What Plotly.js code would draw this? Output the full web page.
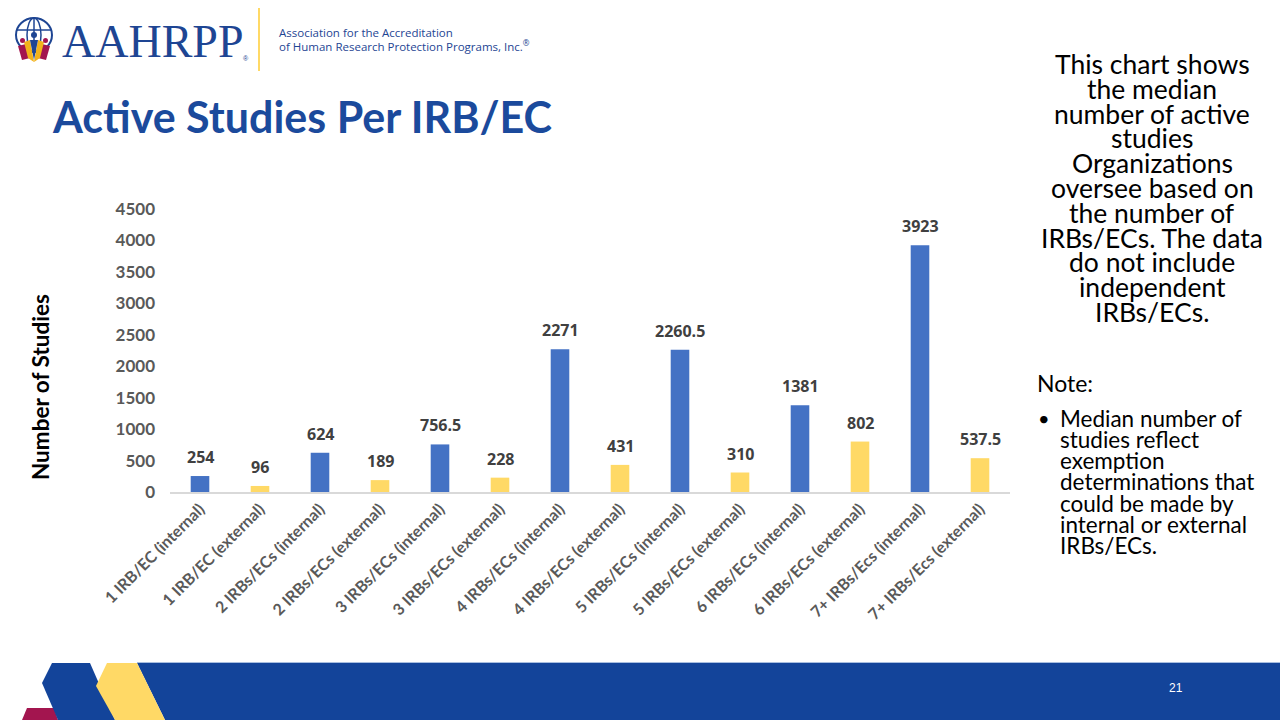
<!DOCTYPE html>
<html>
<head>
<meta charset="utf-8">
<script src="https://cdn.plot.ly/plotly-3.0.1.min.js"></script>
<style>html,body{margin:0;padding:0;background:#fff;}#chart{width:1280px;height:720px;}</style>
</head>
<body>
<div id="chart"></div>
<script>
// ---- data ----
const categories = [
  "1 IRB/EC (internal)", "1 IRB/EC (external)",
  "2 IRBs/ECs (internal)", "2 IRBs/ECs (external)",
  "3 IRBs/ECs (internal)", "3 IRBs/ECs (external)",
  "4 IRBs/ECs (internal)", "4 IRBs/ECs (external)",
  "5 IRBs/ECs (internal)", "5 IRBs/ECs (external)",
  "6 IRBs/ECs (internal)", "6 IRBs/ECs (external)",
  "7+ IRBs/Ecs (internal)", "7+ IRBs/Ecs (external)"
];
const medianStudies = [254, 96, 624, 189, 756.5, 228, 2271, 431, 2260.5, 310, 1381, 802, 3923, 537.5];
const yTicks = [0, 500, 1000, 1500, 2000, 2500, 3000, 3500, 4000, 4500];

const sideText = [
  "This chart shows", "the median", "number of active", "studies", "Organizations",
  "oversee based on", "the number of", "IRBs/ECs. The data", "do not include",
  "independent", "IRBs/ECs."
];
const noteLines = [
  "Median number of", "studies reflect", "exemption", "determinations that",
  "could be made by", "internal or external", "IRBs/ECs."
];

// ---- layout helpers (pixel -> paper) ----
const L = 170, R = 1010, T = 209, B = 492;
const px = x => (x - L) / (R - L);
const py = y => (B - y) / (B - T);
const pt = (x, y) => px(x).toFixed(5) + "," + py(y).toFixed(5);
const poly = arr => "M" + arr.map(p => pt(p[0], p[1])).join(" L") + " Z";

const BLUE = "#4472C4", YELLOW = "#FFD966", NAVY = "#13449A";
const barColors = categories.map(c => c.includes("internal") ? BLUE : YELLOW);

const trace = {
  type: "bar",
  x: categories,
  y: medianStudies,
  width: 0.31,
  marker: {color: barColors},
  hoverinfo: "x+y",
  showlegend: false
};

const annotations = [];
// value labels
categories.forEach((c, i) => {
  annotations.push({
    xref: "x", yref: "y", x: c, y: medianStudies[i],
    text: String(medianStudies[i]), showarrow: false,
    yanchor: "bottom", yshift: 6,
    font: {family: "Open Sans", size: 16, color: "#404040", weight: "bold"}
  });
});
// y title
annotations.push({
  xref: "paper", yref: "paper", x: px(40), y: py(387),
  text: "Number of Studies", textangle: -90, showarrow: false,
  xanchor: "center", yanchor: "middle",
  font: {family: "Lato", size: 22.5, color: "#000", weight: "bold"}
});
// page title
annotations.push({
  xref: "paper", yref: "paper", x: px(50), y: py(117),
  text: "Active Studies Per IRB/EC", showarrow: false,
  xanchor: "left", yanchor: "middle",
  font: {family: "Lato", size: 43, color: "#1B4A9C", weight: "bold"}
});
// logo text
annotations.push({
  xref: "paper", yref: "paper", x: px(60), y: py(41),
  text: "AAHRPP", showarrow: false, xanchor: "left", yanchor: "middle",
  font: {family: "Liberation Serif", size: 46, color: "#1E4593"}
});
annotations.push({
  xref: "paper", yref: "paper", x: px(241), y: py(58),
  text: "®", showarrow: false, xanchor: "left", yanchor: "middle",
  font: {family: "Liberation Sans", size: 7, color: "#1E4593"}
});
annotations.push({
  xref: "paper", yref: "paper", x: px(277), y: py(32),
  text: "Association for the Accreditation", showarrow: false, xanchor: "left", yanchor: "middle",
  font: {family: "Open Sans", size: 11.5, color: "#1E4593"}
});
annotations.push({
  xref: "paper", yref: "paper", x: px(277), y: py(46),
  text: "of Human Research Protection Programs, Inc.<sup>®</sup>", showarrow: false, xanchor: "left", yanchor: "middle",
  font: {family: "Open Sans", size: 11.5, color: "#1E4593"}
});
// side text
sideText.forEach((s, i) => {
  annotations.push({
    xref: "paper", yref: "paper", x: px(1152), y: py(64 + i * 24.8),
    text: s, showarrow: false, xanchor: "center", yanchor: "middle",
    font: {family: "Lato", size: 26.5, color: "#000"}
  });
});
annotations.push({
  xref: "paper", yref: "paper", x: px(1035), y: py(383),
  text: "Note:", showarrow: false, xanchor: "left", yanchor: "middle",
  font: {family: "Lato", size: 23, color: "#000"}
});
annotations.push({
  xref: "paper", yref: "paper", x: px(1036), y: py(418),
  text: "•", showarrow: false, xanchor: "left", yanchor: "middle",
  font: {family: "Lato", size: 20, color: "#000"}
});
noteLines.forEach((s, i) => {
  annotations.push({
    xref: "paper", yref: "paper", x: px(1058), y: py(418 + i * 21.3),
    text: s, showarrow: false, xanchor: "left", yanchor: "middle",
    font: {family: "Lato", size: 22.5, color: "#000"}
  });
});
// page number
annotations.push({
  xref: "paper", yref: "paper", x: px(1176), y: py(688),
  text: "21", showarrow: false, xanchor: "center", yanchor: "middle",
  font: {family: "Liberation Sans Narrow, Liberation Sans", size: 12, color: "#fff"}
});

const shapes = [];
const S = (o) => shapes.push(Object.assign({xref: "paper", yref: "paper", layer: "above"}, o));
// footer band
S({type: "path", path: poly([[137,663],[1280,663],[1280,720],[165,720]]), fillcolor: NAVY, line: {width: 0}});
S({type: "line", x0: px(137), x1: px(1280), y0: py(662.5), y1: py(662.5), line: {color: "#A8BEE0", width: 1}});
S({type: "path", path: poly([[27,708],[54,708],[58,720],[22,720]]), fillcolor: "#A3154F", line: {width: 0}});
S({type: "path", path: poly([[52,663],[90,663],[115,720],[58,720],[42,683]]), fillcolor: NAVY, line: {width: 0}});
S({type: "path", path: poly([[107,663],[137,663],[165,720],[115,720],[96,686]]), fillcolor: YELLOW, line: {width: 0}});
// logo separator
S({type: "line", x0: px(259), x1: px(259), y0: py(8), y1: py(71), line: {color: "#FFD966", width: 2}});
// globe icon
S({type: "circle", x0: px(16), x1: px(52), y0: py(18), y1: py(52), line: {color: "#1E4593", width: 2}});
S({type: "circle", x0: px(27), x1: px(41), y0: py(18), y1: py(52), line: {color: "#1E4593", width: 1.5}});
S({type: "line", x0: px(34), x1: px(34), y0: py(18), y1: py(52), line: {color: "#1E4593", width: 1.5}});
S({type: "line", x0: px(17), x1: px(51), y0: py(30), y1: py(30), line: {color: "#1E4593", width: 1.5}});
// figures
S({type: "path", path: poly([[18,46],[26,44],[30,58],[22,60]]), fillcolor: "#A3154F", line: {width: 0}});
S({type: "path", path: poly([[50,46],[42,44],[38,58],[46,60]]), fillcolor: "#A3154F", line: {width: 0}});
S({type: "path", path: poly([[24,42],[30,40],[34,62],[28,58]]), fillcolor: "#F2B21B", line: {width: 0}});
S({type: "path", path: poly([[44,42],[38,40],[34,62],[40,58]]), fillcolor: "#F2B21B", line: {width: 0}});
S({type: "path", path: poly([[30,40],[38,40],[34,60]]), fillcolor: "#1E4593", line: {width: 0}});
S({type: "circle", x0: px(31), x1: px(37), y0: py(32), y1: py(38), fillcolor: "#1E4593", line: {width: 0}});
S({type: "circle", x0: px(20), x1: px(25), y0: py(38), y1: py(43), fillcolor: "#A3154F", line: {width: 0}});
S({type: "circle", x0: px(43), x1: px(48), y0: py(38), y1: py(43), fillcolor: "#A3154F", line: {width: 0}});

const layout = {
  width: 1280, height: 720,
  margin: {l: L, r: 1280 - R, t: T, b: 720 - B, pad: 0},
  paper_bgcolor: "#fff", plot_bgcolor: "#fff",
  showlegend: false,
  xaxis: {
    type: "category", tickangle: -45,
    tickfont: {family: "Lato", size: 16, color: "#595959", weight: "bold"},
    showline: true, linecolor: "#D9D9D9", linewidth: 1.5,
    ticks: "", showgrid: false, zeroline: false, fixedrange: true
  },
  yaxis: {
    range: [0, 4500], tickvals: yTicks, ticktext: yTicks.map(String),
    tickfont: {family: "Lato", size: 17, color: "#595959", weight: "bold"},
    showgrid: false, zeroline: false, showline: false,
    ticks: "", ticklabelstandoff: 14, fixedrange: true
  },
  annotations: annotations,
  shapes: shapes
};

Plotly.newPlot("chart", [trace], layout, {displayModeBar: false, staticPlot: true});
</script>
</body>
</html>
